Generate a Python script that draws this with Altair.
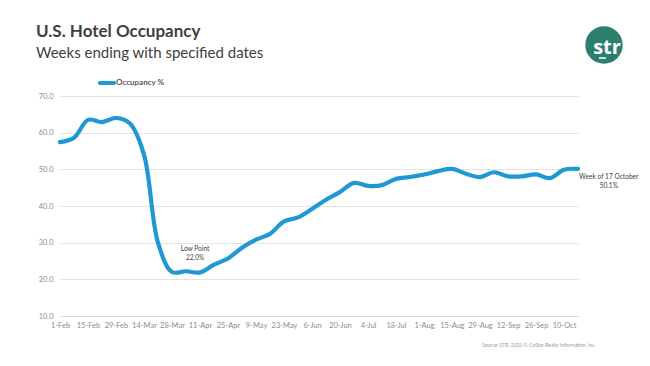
import json
import altair as alt
import pandas as pd

weeks = ["1-Feb", "8-Feb", "15-Feb", "22-Feb", "29-Feb", "7-Mar", "14-Mar", "21-Mar",
         "28-Mar", "4-Apr", "11-Apr", "18-Apr", "25-Apr", "2-May", "9-May", "16-May",
         "23-May", "30-May", "6-Jun", "13-Jun", "20-Jun", "27-Jun", "4-Jul", "11-Jul",
         "18-Jul", "25-Jul", "1-Aug", "8-Aug", "15-Aug", "22-Aug", "29-Aug", "5-Sep",
         "12-Sep", "19-Sep", "26-Sep", "3-Oct", "10-Oct", "17-Oct"]
occupancy = [57.4, 58.6, 63.5, 62.9, 64.0, 62.5, 54.0, 30.0,
             22.0, 22.2, 21.9, 24.0, 25.7, 28.6, 30.8, 32.4,
             35.8, 36.9, 39.2, 41.7, 43.8, 46.3, 45.5, 45.7,
             47.4, 47.9, 48.6, 49.5, 50.1, 48.8, 47.9, 49.2,
             48.1, 48.1, 48.6, 47.6, 49.9, 50.1]
y_ticks = [10, 20, 30, 40, 50, 60, 70]

annot_text = [["Low Point", "22.0%"], ["Week of 17 October", "50.1%"]]
annot_x = [9.65, 39.2]
annot_y = [27.6, 47.4]

FONT = "Lato"
BLUE = "#1F98D4"
TEAL = "#2B7F6E"

df = pd.DataFrame({"i": list(range(len(weeks))), "week": weeks, "occ": occupancy})
ann = pd.DataFrame({"t": annot_text, "x": annot_x, "y": annot_y})
one = pd.DataFrame({"a": [0]})

label_expr = json.dumps(weeks) + "[datum.value]"

xs = alt.Scale(domain=[0, len(weeks) - 1], nice=False, zero=False)
ys = alt.Scale(domain=[10, 70], nice=False, zero=False)

x_axis = alt.Axis(
    values=list(range(0, len(weeks), 2)), labelExpr=label_expr, title=None,
    grid=False, ticks=False, domainColor="#D9D9D9", labelColor="#8C8C8C",
    labelFont=FONT, labelFontSize=7.5, labelPadding=5, labelFlush=False,
    labelOverlap=False)
y_axis = alt.Axis(
    values=y_ticks, format=".1f", title=None, domain=False, ticks=False,
    gridColor="#E3E3E3", labelColor="#8C8C8C", labelFont=FONT,
    labelFontSize=7.5, labelPadding=7, labelOverlap=False)

line = alt.Chart(df).mark_line(
    color=BLUE, strokeWidth=4.2, interpolate="catmull-rom", strokeCap="round"
).encode(
    x=alt.X("i:Q", scale=xs, axis=x_axis),
    y=alt.Y("occ:Q", scale=ys, axis=y_axis),
)

annots = alt.Chart(ann).mark_text(
    font=FONT, fontSize=6.6, color="#404040", align="center", baseline="alphabetic",
    lineHeight=9
).encode(
    x=alt.X("x:Q", scale=xs, axis=x_axis), y=alt.Y("y:Q", scale=ys, axis=y_axis), text="t"
)

title = alt.Chart(one).mark_text(
    text="U.S. Hotel Occupancy", font=FONT, fontSize=17, fontWeight="bold",
    color="#404040", align="left", baseline="alphabetic"
).encode(x=alt.value(-24), y=alt.value(-59))

subtitle = alt.Chart(one).mark_text(
    text="Weeks ending with specified dates", font=FONT, fontSize=15,
    color="#404040", align="left", baseline="alphabetic"
).encode(x=alt.value(-24), y=alt.value(-38))

leg_line = alt.Chart(one).mark_rule(color=BLUE, strokeWidth=4.2, strokeCap="round").encode(
    x=alt.value(40), x2=alt.value(54), y=alt.value(-13))
leg_text = alt.Chart(one).mark_text(
    text="Occupancy %", font=FONT, fontSize=8, fontWeight="bold", color="#595959",
    align="left", baseline="middle"
).encode(x=alt.value(56), y=alt.value(-13))

logo = alt.Chart(one).mark_circle(color=TEAL, opacity=1, size=1400).encode(
    x=alt.value(544), y=alt.value(-51))
logo_text = alt.Chart(one).mark_text(
    text="str", font="Open Sans", fontSize=20, fontWeight="bold", color="white",
    align="center", baseline="alphabetic"
).encode(x=alt.value(547), y=alt.value(-42))
logo_line = alt.Chart(one).mark_rule(color="white", strokeWidth=1.5).encode(
    x=alt.value(539), x2=alt.value(546), y=alt.value(-38))

source = alt.Chart(one).mark_text(
    text="Source: STR. 2020 \u00a9 CoStar Realty Information, Inc", font=FONT,
    fontSize=5, color="#9A9A9A", align="left", baseline="alphabetic"
).encode(x=alt.value(422), y=alt.value(251))

chart = alt.layer(
    line, annots, title, subtitle, leg_line, leg_text, logo, logo_text, logo_line, source
).properties(
    width=518, height=220,
    padding={"left": 52, "top": 88, "right": 63, "bottom": 34},
    autosize=alt.AutoSizeParams(type="none"),
    background="white",
).configure_view(stroke=None)

chart.save("out.html", embed_options={"renderer": "svg", "actions": False})
